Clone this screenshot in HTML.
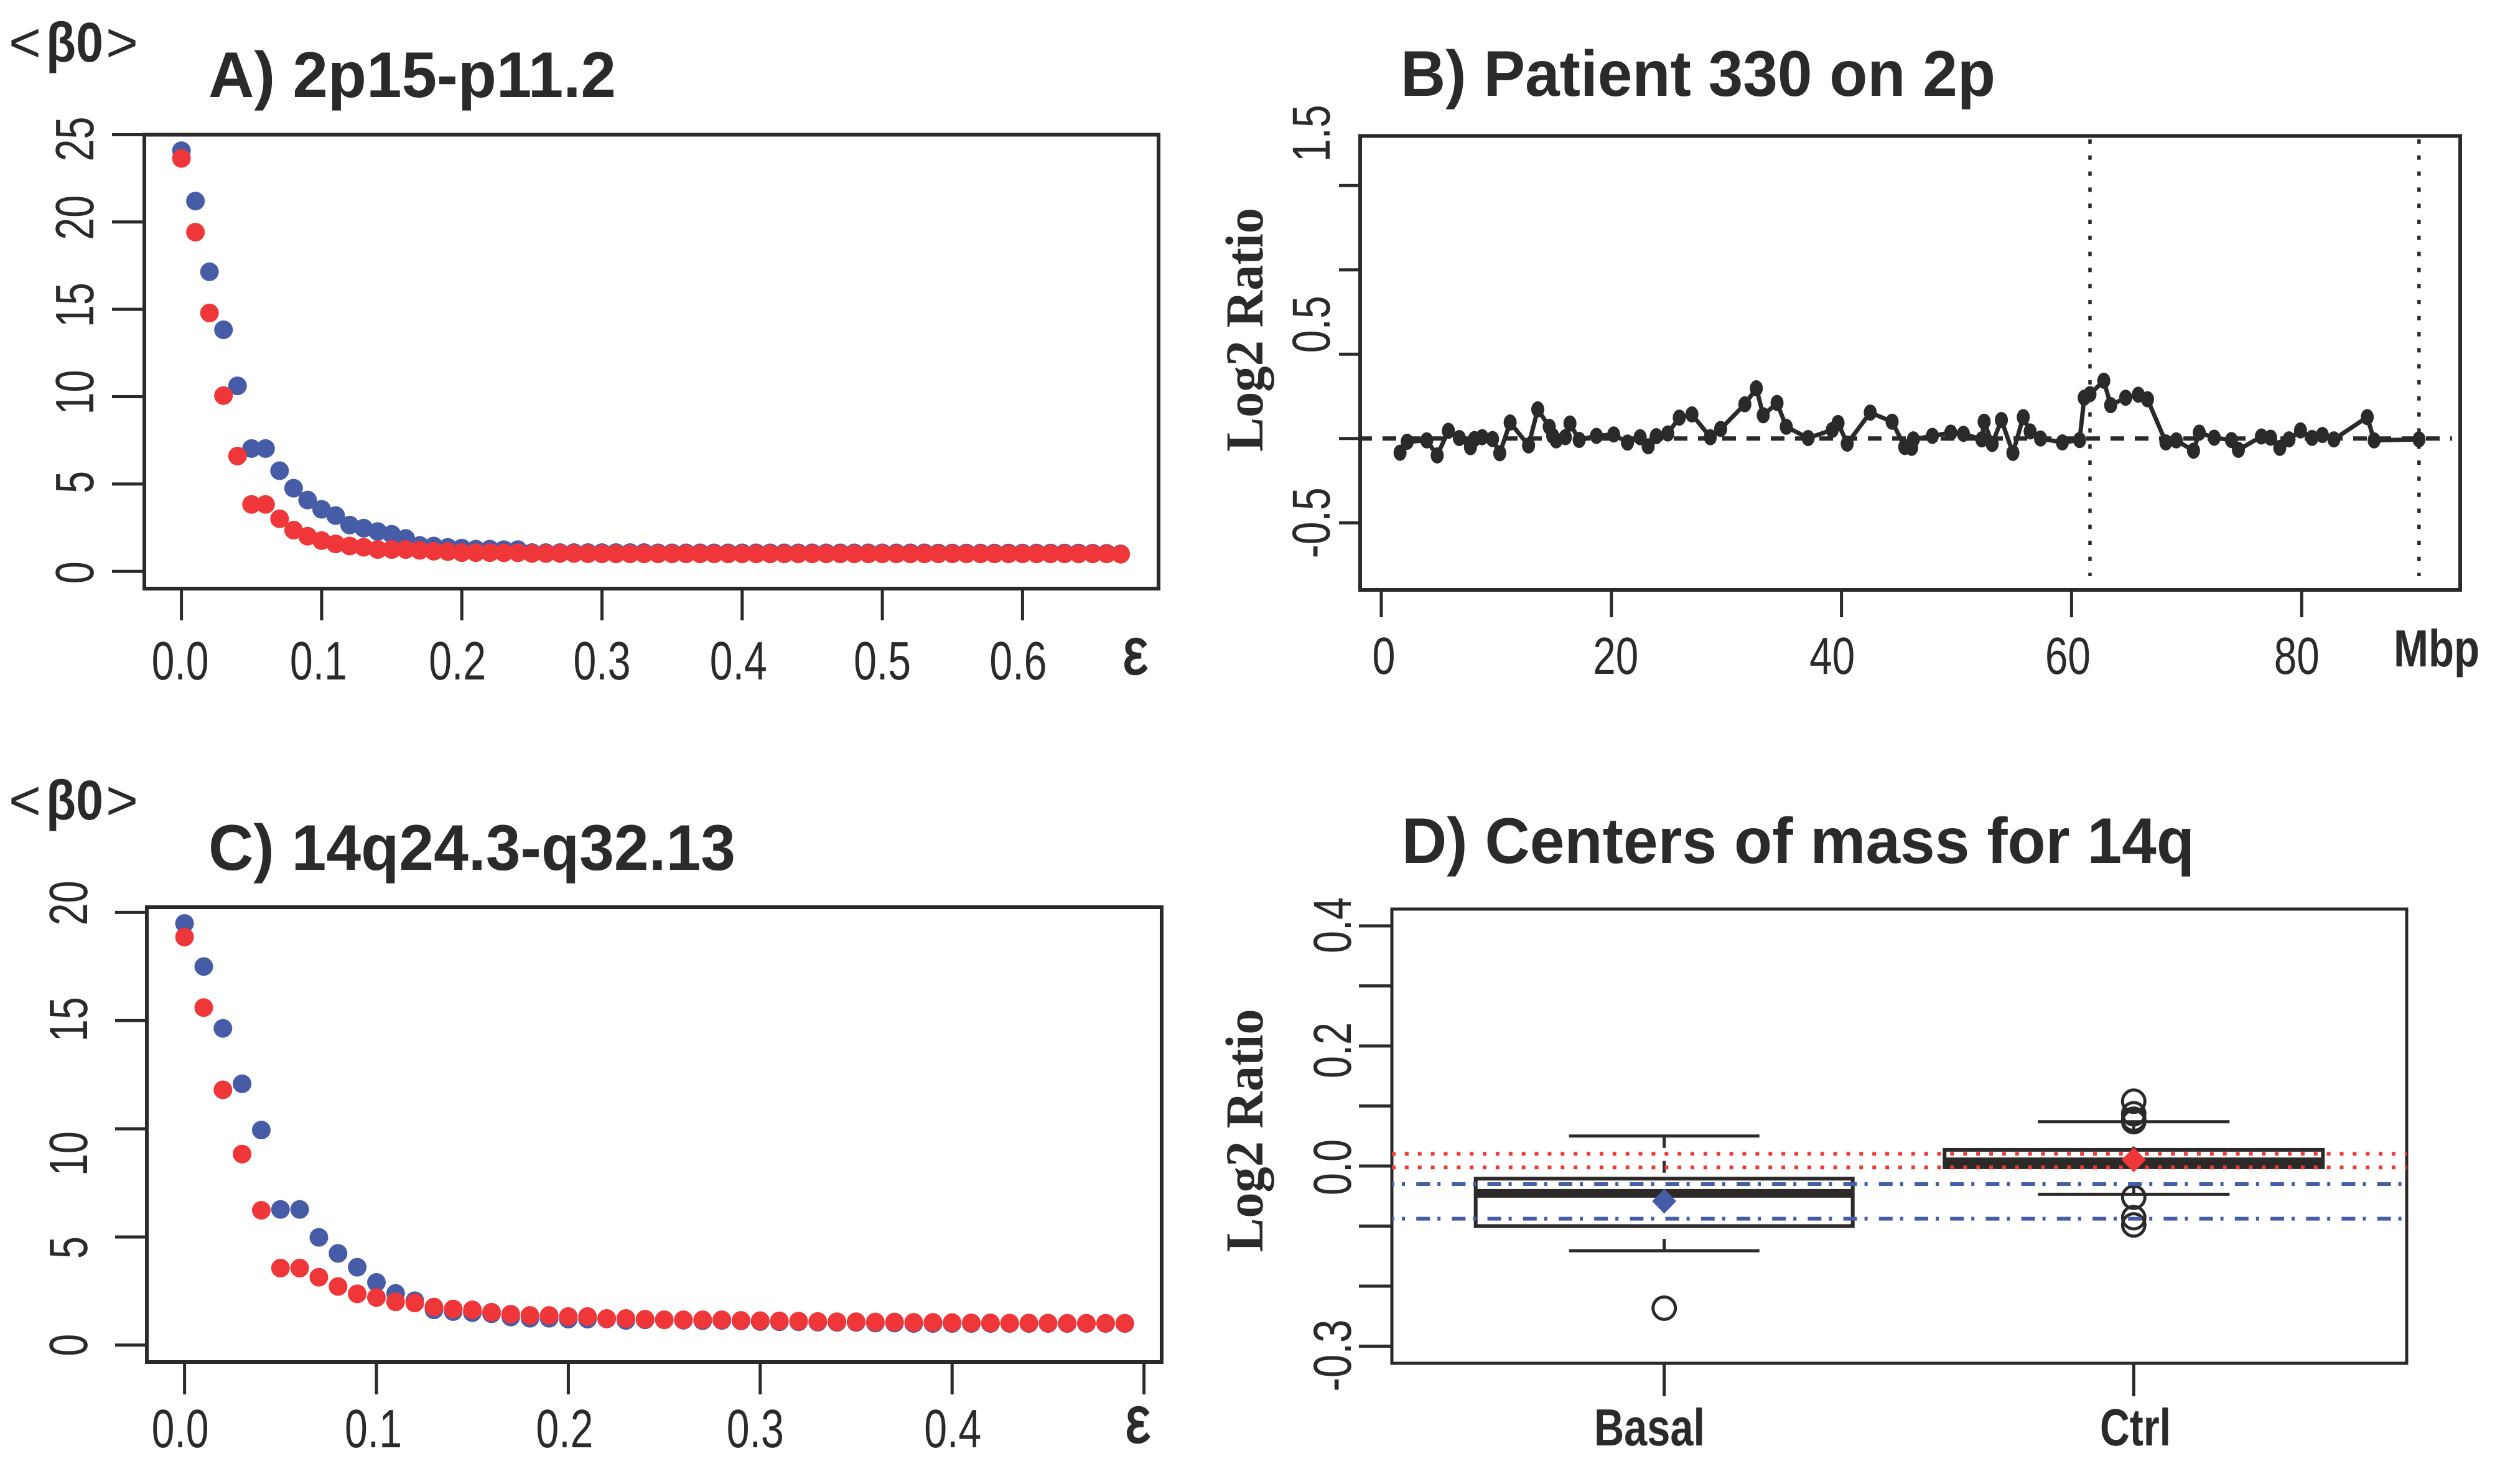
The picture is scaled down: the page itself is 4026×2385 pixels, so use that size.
<!DOCTYPE html>
<html lang="en">
<head>
<meta charset="utf-8">
<title>Four-panel genomic chart</title>
<style>
html,body{margin:0;padding:0;background:#fff;}
svg{display:block;}
text{fill:#2b2a29;font-family:"Liberation Sans",sans-serif;text-rendering:geometricPrecision;}
</style>
</head>
<body>
<svg id="fig" xmlns="http://www.w3.org/2000/svg" width="4026" height="2385" viewBox="0 0 4026 2385">
  <rect x="0" y="0" width="4026" height="2385" fill="#ffffff"/>
  <g id="panelA"></g>
  <g id="panelB"></g>
  <g id="panelC"></g>
  <g id="panelD"></g>
</svg>
<script>
// ---------- Panel A data ----------
const epsA = [0,0.01,0.02,0.03,0.04,0.05,0.06,0.07,0.08,0.09,0.1,0.11,0.12,0.13,0.14,0.15,0.16,0.17,0.18,0.19,0.2,0.21,0.22,0.23,0.24,0.25,0.26,0.27,0.28,0.29,0.3,0.31,0.32,0.33,0.34,0.35,0.36,0.37,0.38,0.39,0.4,0.41,0.42,0.43,0.44,0.45,0.46,0.47,0.48,0.49,0.5,0.51,0.52,0.53,0.54,0.55,0.56,0.57,0.58,0.59,0.6,0.61,0.62,0.63,0.64,0.65,0.66,0.67];
const blueA = [24.08,21.2,17.15,13.83,10.62,7.03,7.03,5.76,4.76,4.08,3.55,3.19,2.65,2.47,2.28,2.12,1.88,1.48,1.45,1.37,1.33,1.27,1.27,1.24,1.24,1.07,1.07,1.07,1.07,1.07,1.07,1.07,1.07,1.07,1.06,1.06,1.06,1.06,1.06,1.06,1.06,1.06,1.06,1.06,1.06,1.06,1.06,1.06,1.06,1.06,1.06,1.06,1.06,1.06,1.05,1.05,1.05,1.05,1.05,1.05,1.05,1.05,1.05,1.05,1.05,1.04,1.03,1.0];
const redA = [23.64,19.42,14.79,10.06,6.6,3.83,3.83,3.01,2.36,2.01,1.76,1.57,1.45,1.38,1.25,1.25,1.25,1.2,1.15,1.13,1.07,1.07,1.07,1.06,1.06,1.02,1.02,1.02,1.02,1.01,1.0,1.0,1.0,1.0,1.0,1.0,1.0,1.0,1.0,1.0,1.0,1.0,1.0,1.0,1.0,1.0,1.0,1.0,1.0,1.0,1.0,1.0,1.0,1.0,1.0,1.0,1.0,1.0,1.0,1.0,1.0,1.0,1.0,1.0,1.0,1.0,1.0,0.98];
const xTicksA = [0,0.1,0.2,0.3,0.4,0.5,0.6];
const yTicksA = [0,5,10,15,20,25];

// ---------- Panel B data ----------
const mbpB = [1.63,2.25,3.95,4.86,5.83,6.78,7.75,8.1,8.77,9.67,10.3,11.2,12.8,13.6,14.6,14.9,15.2,16.0,16.4,17.2,18.7,20.2,21.4,22.5,23.2,23.9,24.9,25.9,27.0,28.6,29.5,31.6,32.6,33.2,34.4,35.2,37.1,39.2,39.7,40.5,42.5,44.4,45.5,46.1,46.25,47.9,49.5,50.6,52.2,52.4,53.1,53.9,54.9,55.8,56.4,57.3,59.2,60.7,61.1,61.6,62.8,63.4,64.7,65.8,66.6,68.2,69.1,70.6,71.1,72.4,73.9,74.5,76.5,77.3,78.1,78.9,79.9,80.9,81.8,82.8,85.7,86.3,90.2];
const ratioB = [-0.084,-0.019,-0.011,-0.1,0.046,0.003,-0.051,-0.003,0.008,-0.003,-0.087,0.095,-0.041,0.173,0.07,0.016,-0.011,0.008,0.089,-0.008,0.016,0.024,-0.024,0.008,-0.046,0.014,0.03,0.124,0.143,0.008,0.057,0.203,0.298,0.138,0.211,0.07,0.003,0.051,0.092,-0.03,0.154,0.1,-0.05,-0.055,-0.005,0.016,0.035,0.028,-0.005,0.1,-0.032,0.11,-0.085,0.127,0.042,0,-0.023,-0.009,0.242,0.263,0.343,0.198,0.242,0.26,0.233,-0.023,-0.011,-0.072,0.035,0.005,-0.009,-0.067,0.012,0.005,-0.055,-0.005,0.048,0.004,0.021,-0.005,0.127,-0.011,-0.005];
const xTicksB = [0,20,40,60,80];
const yTicksB = [-0.5,0,0.5,1,1.5];
const vLinesB = [61.6,90.2];

// ---------- Panel C data ----------
const epsC = [0,0.01,0.02,0.03,0.04,0.05,0.06,0.07,0.08,0.09,0.1,0.11,0.12,0.13,0.14,0.15,0.16,0.17,0.18,0.19,0.2,0.21,0.22,0.23,0.24,0.25,0.26,0.27,0.28,0.29,0.3,0.31,0.32,0.33,0.34,0.35,0.36,0.37,0.38,0.39,0.4,0.41,0.42,0.43,0.44,0.45,0.46,0.47,0.48,0.49];
const blueC = [19.49,17.5,14.64,12.08,9.94,6.27,6.27,4.98,4.24,3.6,2.9,2.39,2.05,1.63,1.55,1.5,1.45,1.3,1.24,1.24,1.2,1.2,1.21,1.14,1.17,1.17,1.15,1.13,1.14,1.12,1.09,1.08,1.08,1.06,1.05,1.05,1.02,1.02,1.0,1.0,1.0,1.0,1.0,1.0,1.0,1.0,1.0,1.0,1.0,1.0];
const redC = [18.86,15.6,11.8,8.83,6.23,3.56,3.56,3.14,2.71,2.37,2.2,2.0,1.95,1.76,1.67,1.63,1.52,1.43,1.37,1.37,1.32,1.32,1.23,1.23,1.2,1.17,1.17,1.17,1.17,1.14,1.13,1.12,1.11,1.09,1.08,1.08,1.07,1.07,1.05,1.05,1.04,1.03,1.03,1.02,1.02,1.02,1.01,1.01,1.01,1.01];
const xTicksC = [0,0.1,0.2,0.3,0.4,0.5];
const yTicksC = [0,5,10,15,20];

// ---------- Panel D data ----------
const yTicksD = [-0.3,-0.2,-0.1,0,0.1,0.2,0.3,0.4];
const groupsD = ['Basal','Ctrl'];
const whiskerHighD = [0.05,0.0738];
const q3D = [-0.021,0.027];
const medianD = [-0.0455,0.007];
const q1D = [-0.1,-0.002];
const whiskerLowD = [-0.141,-0.047];
const meanD = [-0.0585,0.0104];
const outliersBasalD = [-0.2367];
const outliersCtrlD = [0.108,0.087,0.078,0.074,-0.052,-0.086,-0.098];
const redBandD = [0.0204,-0.0023];
const blueBandD = [-0.03,-0.0877];

// ---------- helpers ----------
const NS = 'http://www.w3.org/2000/svg';
const INK = '#2b2a29', BLUE = '#475ca7', RED = '#ef3639';
function make(parent, tag, name, attrs){
  const el = document.createElementNS(NS, tag);
  
  
  for (const k in attrs) el.setAttribute(k, attrs[k]);
  parent.appendChild(el);
  return el;
}
function line(p, name, x1, y1, x2, y2, w, color, dash, offset){
  const a = {x1:x1, y1:y1, x2:x2, y2:y2, stroke:color || INK, 'stroke-width':w};
  if (dash) a['stroke-dasharray'] = dash;
  if (offset) a['stroke-dashoffset'] = offset;
  return make(p, 'line', name, a);
}
function frame(p, name, x1, y1, x2, y2, w){
  return make(p, 'rect', name, {x:x1, y:y1, width:x2-x1, height:y2-y1, fill:'none', stroke:INK, 'stroke-width':w});
}
function dot(p, name, cx, cy, r, color){
  return make(p, 'circle', name, {cx:cx, cy:cy, r:r, fill:color});
}
function txt(p, name, str, x, y, size, len, o){
  o = o || {};
  const a = {
    'font-size':size,
    'text-anchor':o.anchor || 'middle',
    textLength:len,
    lengthAdjust:'spacingAndGlyphs',
    transform:'translate(' + x + ' ' + y + ')' + (o.rot ? ' rotate(' + o.rot + ')' : '')
  };
  if (o.bold) a['font-weight'] = 'bold';
  if (o.serif) a['style'] = 'font-family:"Liberation Serif",serif';
  if (o.heavy) { a['stroke'] = INK; a['stroke-width'] = o.heavy; }
  const el = make(p, 'text', name, a);
  el.textContent = str;
  return el;
}
function betaLabel(p, baseY){
  txt(p, 'y-axis-title-open', '<', 14, baseY, 90, 52, {anchor:'start'});
  txt(p, 'y-axis-title', 'β0', 74, baseY, 90, 92, {anchor:'start', bold:true});
  txt(p, 'y-axis-title-close', '>', 170, baseY, 90, 52, {anchor:'start'});
}

// ---------- Panel A ----------
(function(){
  const p = document.getElementById('panelA');
  const x = v => 291.6 + v * 2253;
  const y = v => 918.2 - v * 28.07;
  frame(p, 'plot-frame', 232, 216.5, 1862, 946, 6);
  xTicksA.forEach(v => line(p, 'x-tick', x(v), 946, x(v), 997, 5));
  yTicksA.forEach(v => line(p, 'y-tick', 180, y(v), 232, y(v), 5));
  epsA.forEach((e, i) => dot(p, 'blue-point', x(e), y(blueA[i]), 15, BLUE));
  epsA.forEach((e, i) => dot(p, 'red-point', x(e), y(redA[i]), 15, RED));
  const lb = 1092, s = 87, w = 92;
  txt(p, 'x-tick-label', '0.0', x(0) - 2, lb, s, w);
  txt(p, 'x-tick-label', '0.1', x(0.1) - 5, lb, s, w);
  txt(p, 'x-tick-label', '0.2', x(0.2) - 7, lb, s, w);
  txt(p, 'x-tick-label', '0.3', x(0.3), lb, s, w);
  txt(p, 'x-tick-label', '0.4', x(0.4) - 6, lb, s, w);
  txt(p, 'x-tick-label', '0.5', x(0.5), lb, s, w);
  txt(p, 'x-tick-label', '0.6', x(0.6) - 7, lb, s, w);
  txt(p, 'x-axis-title', 'ε', 1825, 1083, 106, 40, {heavy:2.5});
  const yo = {rot:-90};
  txt(p, 'y-tick-label', '25', 150, y(25) + 7, s, 72, yo);
  txt(p, 'y-tick-label', '20', 150, y(20) - 7, s, 72, yo);
  txt(p, 'y-tick-label', '15', 150, y(15) - 7, s, 72, yo);
  txt(p, 'y-tick-label', '10', 150, y(10) - 7, s, 72, yo);
  txt(p, 'y-tick-label', '5', 150, y(5) - 3, s, 36, yo);
  txt(p, 'y-tick-label', '0', 150, y(0) + 2, s, 36, yo);
  txt(p, 'panel-title', 'A) 2p15-p11.2', 335, 156, 104, 655, {anchor:'start', bold:true});
  betaLabel(p, 99);
})();

// ---------- Panel B ----------
(function(){
  const p = document.getElementById('panelB');
  const x = v => 2220 + v * 18.49;
  const y = v => 704.8 - v * 271;
  frame(p, 'plot-frame', 2186, 218.5, 3954, 948, 6);
  xTicksB.forEach(v => line(p, 'x-tick', x(v), 948, x(v), 992, 5));
  yTicksB.forEach(v => line(p, 'y-tick', 2152, y(v), 2186, y(v), 5));
  line(p, 'zero-reference-line', 2186, y(0), 3941, y(0), 7, INK, '22 17', 3);
  vLinesB.forEach(v => line(p, 'segment-boundary-line', x(v), 224, x(v), 926, 5.5, INK, '7 18.8', 0));
  const pts = mbpB.map((m, i) => x(m) + ',' + y(ratioB[i])).join(' ');
  make(p, 'polyline', 'log2-ratio-line', {points:pts, fill:'none', stroke:INK, 'stroke-width':7, 'stroke-linejoin':'round'});
  mbpB.forEach((m, i) => make(p, 'ellipse', 'log2-ratio-point', {cx:x(m), cy:y(ratioB[i]), rx:10.5, ry:13, fill:INK}));
  const lb = 1083, s = 84;
  txt(p, 'x-tick-label', '0', x(0) + 4, lb, s, 37);
  txt(p, 'x-tick-label', '20', x(20) + 7, lb, s, 73);
  txt(p, 'x-tick-label', '40', x(40) - 15, lb, s, 73);
  txt(p, 'x-tick-label', '60', x(60) - 6, lb, s, 73);
  txt(p, 'x-tick-label', '80', x(80) - 8, lb, s, 73);
  txt(p, 'x-axis-title', 'Mbp', 3916, 1071, 84, 138, {bold:true});
  const yo = {rot:-90};
  txt(p, 'y-tick-label', '1.5', 2137, y(1.5) - 84, 86, 92, yo);
  txt(p, 'y-tick-label', '0.5', 2137, y(0.5) - 48, 86, 92, yo);
  txt(p, 'y-tick-label', '-0.5', 2137, y(-0.5), 86, 114, yo);
  txt(p, 'y-axis-title', 'Log2 Ratio', 2029, 530, 86, 392, {rot:-90, serif:true, bold:true});
  txt(p, 'panel-title', 'B) Patient 330 on 2p', 2251, 154, 104, 956, {anchor:'start', bold:true});
})();

// ---------- Panel C ----------
(function(){
  const p = document.getElementById('panelC');
  const x = v => 296.6 + v * 3084;
  const y = v => 2161.8 - v * 34.77;
  frame(p, 'plot-frame', 236, 1458, 1867, 2189, 6);
  xTicksC.forEach(v => line(p, 'x-tick', x(v), 2189, x(v), 2241, 5));
  yTicksC.forEach(v => line(p, 'y-tick', 185, y(v), 236, y(v), 5));
  epsC.forEach((e, i) => dot(p, 'blue-point', x(e), y(blueC[i]), 15, BLUE));
  epsC.forEach((e, i) => dot(p, 'red-point', x(e), y(redC[i]), 15, RED));
  const lb = 2326, s = 87, w = 92;
  txt(p, 'x-tick-label', '0.0', x(0) - 7, lb, s, w);
  txt(p, 'x-tick-label', '0.1', x(0.1) - 5, lb, s, w);
  txt(p, 'x-tick-label', '0.2', x(0.2) - 6, lb, s, w);
  txt(p, 'x-tick-label', '0.3', x(0.3) - 8, lb, s, w);
  txt(p, 'x-tick-label', '0.4', x(0.4) + 1, lb, s, w);
  txt(p, 'x-axis-title', 'ε', 1829, 2318, 106, 40, {heavy:2.5});
  const yo = {rot:-90};
  txt(p, 'y-tick-label', '20', 140, y(20) - 15, s, 72, yo);
  txt(p, 'y-tick-label', '15', 140, y(15) - 2, s, 72, yo);
  txt(p, 'y-tick-label', '10', 140, y(10) + 40, s, 72, yo);
  txt(p, 'y-tick-label', '5', 140, y(5) + 17, s, 36, yo);
  txt(p, 'y-tick-label', '0', 140, y(0), s, 36, yo);
  txt(p, 'panel-title', 'C) 14q24.3-q32.13', 335, 1398, 104, 847, {anchor:'start', bold:true});
  betaLabel(p, 1317);
})();

// ---------- Panel D ----------
(function(){
  const p = document.getElementById('panelD');
  const y = v => 1874 - v * 965;
  const cx = [2674.7, 3429.3];
  const half = [303, 304];
  const capHalf = [153, 154];
  frame(p, 'plot-frame', 2237, 1461, 3868, 2191, 5);
  yTicksD.forEach(v => line(p, 'y-tick', 2184, y(v), 2237, y(v), 5));
  cx.forEach(c => line(p, 'x-tick', c, 2191, c, 2244, 5));
  groupsD.forEach((g, i) => {
    const c = cx[i];
    line(p, g + '-upper-whisker', c, y(whiskerHighD[i]), c, y(q3D[i]), 5, INK, '19 21');
    line(p, g + '-lower-whisker', c, y(whiskerLowD[i]), c, y(q1D[i]), 5, INK, '19 21');
    line(p, g + '-upper-cap', c - capHalf[i], y(whiskerHighD[i]), c + capHalf[i], y(whiskerHighD[i]), 5);
    line(p, g + '-lower-cap', c - capHalf[i], y(whiskerLowD[i]), c + capHalf[i], y(whiskerLowD[i]), 5);
    make(p, 'rect', g + '-box', {x:c - half[i], y:y(q3D[i]), width:2 * half[i], height:y(q1D[i]) - y(q3D[i]), fill:'none', stroke:INK, 'stroke-width':6});
    line(p, g + '-median', c - half[i], y(medianD[i]), c + half[i], y(medianD[i]), 14);
  });
  outliersBasalD.forEach(v => make(p, 'circle', 'basal-outlier', {cx:cx[0], cy:y(v), r:18, fill:'none', stroke:INK, 'stroke-width':5}));
  outliersCtrlD.forEach(v => make(p, 'circle', 'ctrl-outlier', {cx:cx[1], cy:y(v), r:18, fill:'none', stroke:INK, 'stroke-width':5}));
  redBandD.forEach(v => line(p, 'ctrl-range-line', 2237, y(v), 3868, y(v), 6, RED, '6 14.87', 0));
  blueBandD.forEach(v => line(p, 'basal-range-line', 2237, y(v), 3868, y(v), 6, BLUE, '22 12 5 18.2', 18));
  const diamond = (name, c, v, color) => {
    const m = y(v);
    make(p, 'polygon', name, {points:(c - 19.5) + ',' + m + ' ' + c + ',' + (m - 20) + ' ' + (c + 19.5) + ',' + m + ' ' + c + ',' + (m + 20), fill:color});
  };
  diamond('basal-mean-marker', cx[0], meanD[0], BLUE);
  diamond('ctrl-mean-marker', cx[1], meanD[1], RED);
  txt(p, 'x-tick-label', groupsD[0], 2651, 2323, 84, 178, {bold:true});
  txt(p, 'x-tick-label', groupsD[1], 3432, 2323, 84, 114, {bold:true});
  const yo = {rot:-90};
  txt(p, 'y-tick-label', '0.4', 2171, y(0.4) - 1, 86, 90, yo);
  txt(p, 'y-tick-label', '0.2', 2171, y(0.2) + 7, 86, 90, yo);
  txt(p, 'y-tick-label', '0.0', 2171, y(0) + 2, 86, 90, yo);
  txt(p, 'y-tick-label', '-0.3', 2171, y(-0.3) + 15, 86, 116, yo);
  txt(p, 'y-axis-title', 'Log2 Ratio', 2029, 1817, 86, 391, {rot:-90, serif:true, bold:true});
  txt(p, 'panel-title', 'D) Centers of mass for 14q', 2253, 1387, 104, 1274, {anchor:'start', bold:true});
})();
</script>
</body>
</html>
